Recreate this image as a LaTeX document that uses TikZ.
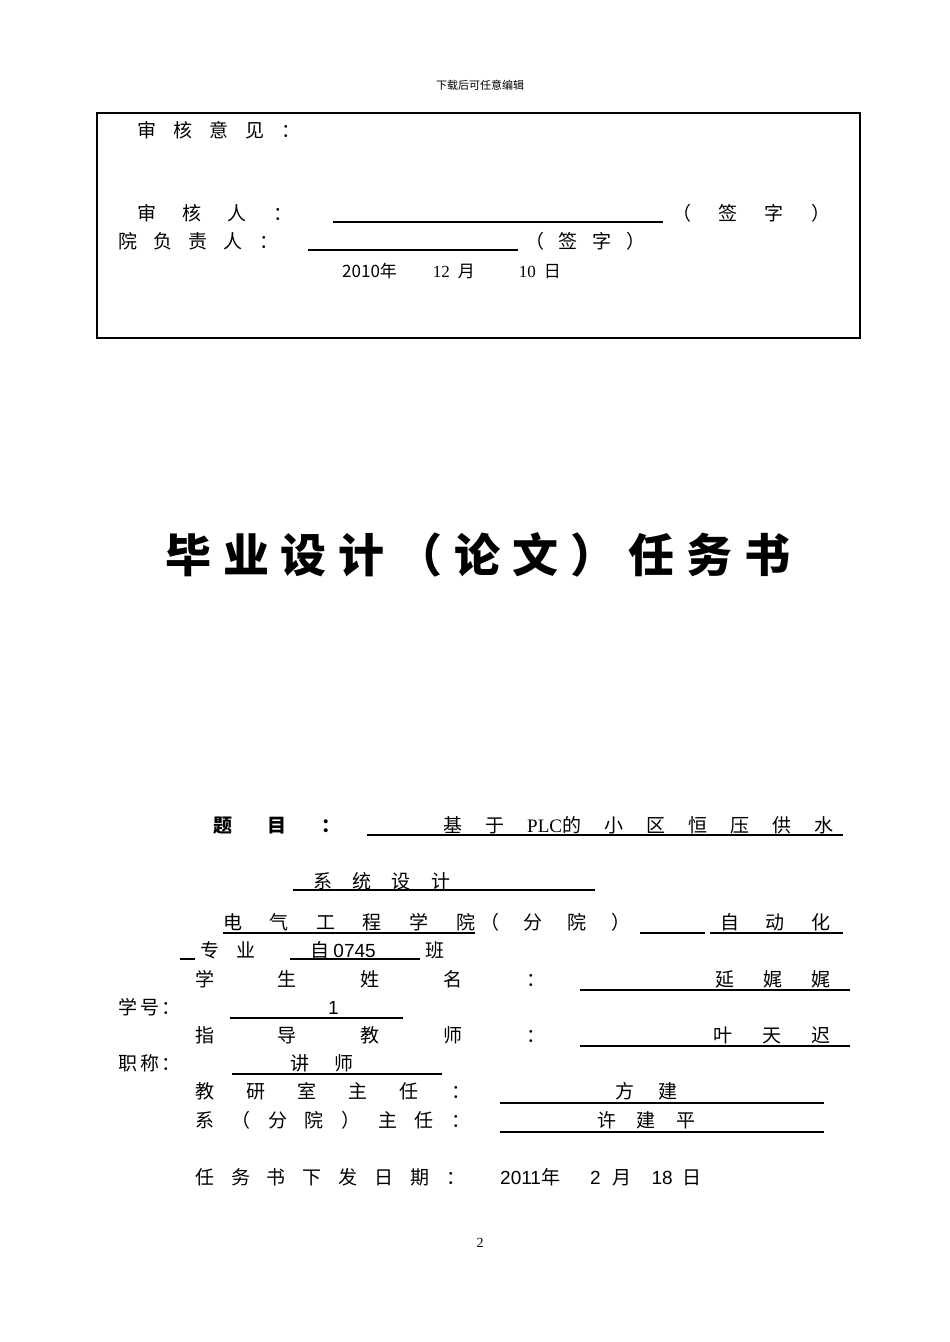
\documentclass[tikz,border=0pt]{standalone}
\usepackage{fontspec}
\setmainfont{Liberation Serif}
\newfontfamily\cjk{Noto Sans CJK SC}
\newfontfamily\arl{Liberation Sans}
\newcommand{\sprd}[2]{\makebox[#1pt][s]{#2}}
\begin{document}
\begin{tikzpicture}[x=1pt,y=-1pt,
  t/.style={anchor=base west,inner sep=0pt,font=\cjk\fontsize{19}{19}\selectfont},
  tb/.style={t,font=\cjk\bfseries\fontsize{19}{19}\selectfont},
  ul/.style={line width=1.1pt}]
\useasboundingbox (0,0) rectangle (950,1342);
\node[inner sep=0pt,font=\cjk\fontsize{11}{11}\selectfont] (hdr) at (480,85) {下载后可任意编辑};
\draw[line width=2pt] (97,113) rectangle (860,338);
\node[t] (a1) at (137,137) {\sprd{163}{审 核 意 见 ：}};
\node[t] (a2) at (137,220) {\sprd{155}{审 核 人 ：}};
\draw[ul] (333,222) -- (663,222);
\node[t] (a3) at (672,220) {\sprd{158}{（ 签 字 ）}};
\node[t] (b1) at (118,248) {\sprd{160}{院 负 责 人 ：}};
\draw[ul] (308,250) -- (518,250);
\node[t] (b3) at (525,248) {\sprd{120}{（ 签 字 ）}};
\node[t] (dt) at (342,277) {\fontsize{17}{17}\selectfont 2010\cjk 年\hspace{36pt}\rmfamily 12\hspace{8pt}\cjk 月\hspace{44pt}\rmfamily 10\hspace{8pt}\cjk 日};
\node[anchor=base west,inner sep=0pt,font=\cjk\bfseries\fontsize{46}{46}\selectfont] (title) at (165,572) {\sprd{625}{毕 业 设 计 （ 论 文 ） 任 务 书}};
\node[tb] (ti) at (213,832) {\sprd{127}{题 目 ：}};
\draw[ul] (367,835) -- (843,835);
\node[t] (ti2) at (443,832) {\sprd{390}{基 于 \rmfamily PLC\cjk 的 小 区 恒 压 供 水}};
\node[t] (ti3) at (313,888) {\sprd{137}{系 统 设 计}};
\draw[ul] (293,890) -- (595,890);
\node[t,font=\arl\fontsize{19}{19}\selectfont] (d1) at (223,929) {\cjk\sprd{252}{电 气 工 程 学 院}};
\draw[ul] (223,933) -- (475,933);
\node[t] (d2) at (480,929) {\sprd{150}{（ 分 院 ）}};
\draw[ul] (640,933) -- (705,933);
\draw[ul] (710,933) -- (843,933);
\node[t] (d3) at (720,929) {\sprd{110}{自 动 化}};
\draw[ul] (180,959) -- (195,959);
\node[t] (e1) at (200,957) {\sprd{55}{专 业}};
\draw[ul] (290,959) -- (420,959);
\node[t] (e2) at (310,957) {自 \arl 0745};
\node[t] (e3) at (425,957) {班};
\node[t] (f1) at (195,986) {\sprd{350}{学 生 姓 名 ：}};
\draw[ul] (580,990) -- (850,990);
\node[t] (f2) at (715,986) {\sprd{115}{延 娓 娓}};
\node[t] (g1) at (118,1014) {\sprd{62}{学 号 ：}};
\draw[ul] (230,1018) -- (403,1018);
\node[t,font=\arl\fontsize{19}{19}\selectfont] (g2) at (328,1014) {1};
\node[t] (h1) at (195,1042) {\sprd{350}{指 导 教 师 ：}};
\draw[ul] (580,1046) -- (850,1046);
\node[t] (h2) at (713,1042) {\sprd{117}{叶 天 迟}};
\node[t] (i1) at (118,1070) {\sprd{62}{职 称 ：}};
\draw[ul] (232,1074) -- (442,1074);
\node[t] (i2) at (290,1070) {\sprd{63}{讲 师}};
\node[t] (j1) at (195,1098) {\sprd{275}{教 研 室 主 任 ：}};
\draw[ul] (500,1103) -- (824,1103);
\node[t] (j2) at (615,1098) {\sprd{62}{方 建}};
\node[t] (k1) at (195,1127) {\sprd{275}{系 （ 分 院 ） 主 任 ：}};
\draw[ul] (500,1132) -- (824,1132);
\node[t] (k2) at (597,1127) {\sprd{98}{许 建 平}};
\node[t] (m1) at (195,1184) {\sprd{270}{任 务 书 下 发 日 期 ：}\hspace{35pt}\arl 2011\cjk 年\hspace{30pt}\arl 2\hspace{12pt}\cjk 月\hspace{20pt}\arl 18\hspace{10pt}\cjk 日};
\node[inner sep=0pt,font=\fontsize{14}{14}\selectfont] (pg) at (480,1243) {2};
\end{tikzpicture}
\end{document}
